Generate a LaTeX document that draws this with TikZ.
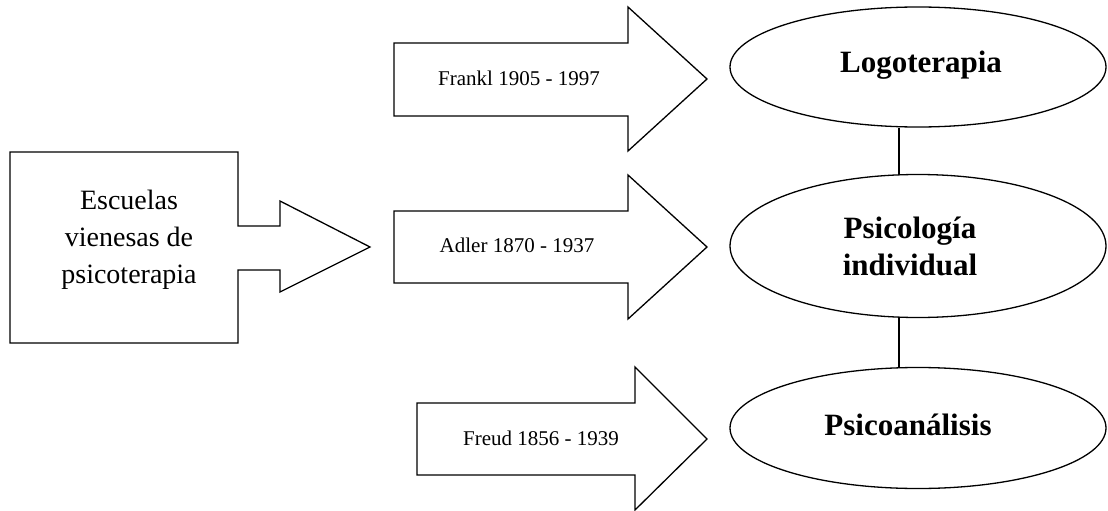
\documentclass[tikz,border=0pt]{standalone}
\usepackage{fontspec}
\setmainfont{Liberation Serif}
\usetikzlibrary{shapes.geometric}
\tikzset{
  shapeline/.style={draw=black, line width=1.3pt, line join=miter, fill=white},
  school/.style={ellipse, draw=black, line width=1.3pt, minimum width=376pt, inner sep=0pt},
  schoolname/.style={inner sep=0pt, align=center, font=\fontsize{31}{37}\selectfont\bfseries},
  founder/.style={inner sep=0pt, font=\fontsize{21}{25}\selectfont},
  origin/.style={inner sep=0pt, align=center, font=\fontsize{28}{37}\selectfont},
  link/.style={draw=black, line width=1.3pt}
}
\begin{document}
\begin{tikzpicture}[x=1pt,y=-1pt]
\useasboundingbox (0,0) rectangle (1108,511);

% Origin box with its pointer
\draw[shapeline] (10,152) -- (238,152) -- (238,226) -- (280,226) -- (280,201) -- (370,247)
  -- (280,292) -- (280,270) -- (238,270) -- (238,343) -- (10,343) -- cycle;
\node[origin] (escuelas) at (129,240) {Escuelas\\vienesas de\\psicoterapia};

% Founder arrows
\draw[shapeline] (394,43) -- (628,43) -- (628,7) -- (707,79) -- (628,151) -- (628,116) -- (394,116) -- cycle;
\node[founder] (frankl) at (519,78) {Frankl 1905 - 1997};

\draw[shapeline] (394,211) -- (628,211) -- (628,175) -- (707,247) -- (628,319) -- (628,283) -- (394,283) -- cycle;
\node[founder] (adler) at (517,245) {Adler 1870 - 1937};

\draw[shapeline] (417,403) -- (635,403) -- (635,367) -- (707,439) -- (635,510) -- (635,475) -- (417,475) -- cycle;
\node[founder] (freud) at (541,438) {Freud 1856 - 1939};

% Schools
\node[school, minimum height=120pt] (logo) at (918,67) {};
\node[schoolname] (logotxt) at (921,65) {Logoterapia};
\node[school, minimum height=143pt] (indiv) at (918,246) {};
\node[schoolname] (indivtxt) at (910,246) {Psicología\\individual};
\node[school, minimum height=121pt] (psicoan) at (918,428) {};
\node[schoolname] (psicoantxt) at (908,425) {Psicoanálisis};

% Links between schools
\draw[link] ([xshift=-19pt]logo.south) -- ([xshift=-19pt]indiv.north);
\draw[link] ([xshift=-19pt]indiv.south) -- ([xshift=-19pt]psicoan.north);
\end{tikzpicture}
\end{document}
